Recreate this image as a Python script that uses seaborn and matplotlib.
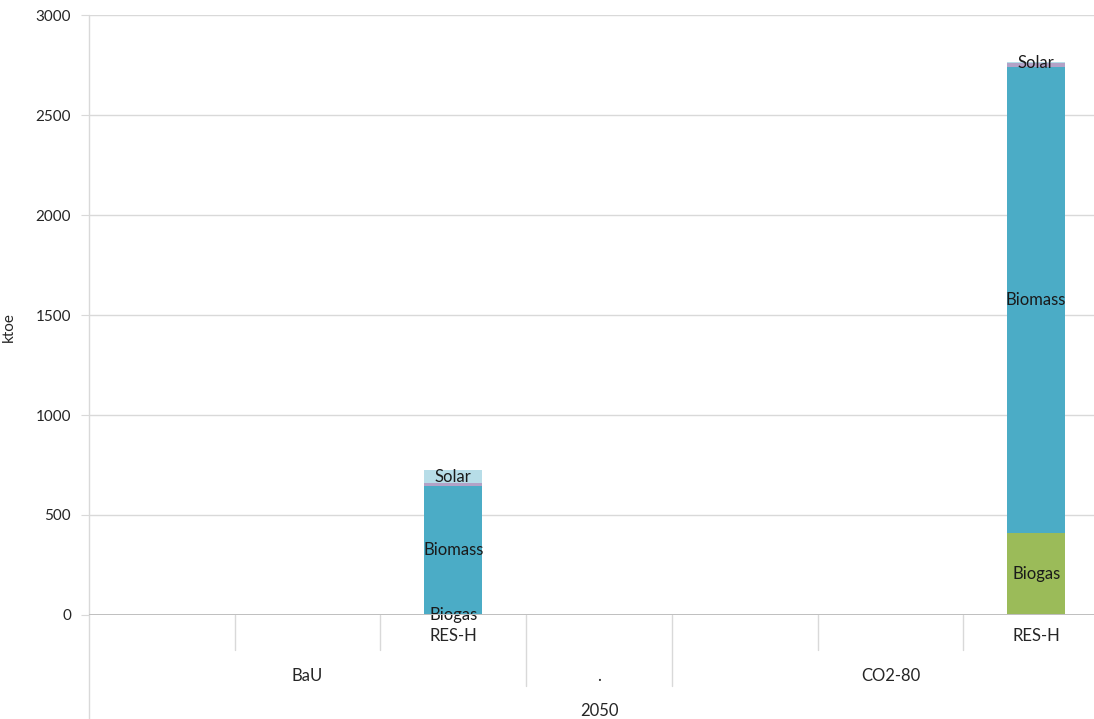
import pandas as pd
import matplotlib.pyplot as plt
import seaborn as sns

# datos (ktoe)
columns = ["BaU_1", "BaU_2", "BaU_RES-H", "dot", "CO2_1", "CO2_2", "CO2_RES-H"]
level1 = ["", "", "RES-H", "", "", "", "RES-H"]
level2 = ["BaU", ".", "CO2-80"]
level2_span = [3, 1, 3]
level3 = "2050"

biogas = [0, 0, 2, 0, 0, 0, 410]
biomass = [0, 0, 643, 0, 0, 0, 2330]
other = [0, 0, 15, 0, 0, 0, 18]
solar = [0, 0, 65, 0, 0, 0, 6]

series = ["Biogas", "Biomass", "Other", "Solar"]
labelled = ["Biogas", "Biomass", "Solar"]
colors = {"Biogas": "#9BBB59", "Biomass": "#4BACC6", "Other": "#B3A2C7", "Solar": "#B7DDE8"}

df = pd.DataFrame({"col": columns, "Biogas": biogas, "Biomass": biomass,
                   "Other": other, "Solar": solar})
cum = df[series].cumsum(axis=1)

sns.set_style("white")
plt.rcParams["font.family"] = ["Lato", "DejaVu Sans"]

W, H = 1094, 719
fig = plt.figure(figsize=(W / 100, H / 100), dpi=100)
ax_h = 600
ax = fig.add_axes([89 / W, 104 / H, 1020 / W, ax_h / H])

# barras apiladas (se dibuja el acumulado de arriba hacia abajo)
for s in reversed(series):
    sns.barplot(x=df["col"], y=cum[s], order=columns, color=colors[s], width=0.4,
                linewidth=0, saturation=1, errorbar=None, ax=ax)

# etiquetas dentro de las barras
for i in range(len(columns)):
    if cum.loc[i, "Solar"] <= 0:
        continue
    for s in labelled:
        y = cum.loc[i, s] - df.loc[i, s] / 2
        ax.text(i, y, s, ha="center", va="center", fontsize=12, color="#1a1a1a")

ax.set_xlim(-0.5, len(columns) - 0.5)
ax.set_ylim(0, 3000)
ax.set_yticks(range(0, 3001, 500))
ax.yaxis.grid(True, color="#D9D9D9", lw=1)
ax.set_axisbelow(True)
for sp in ax.spines.values():
    sp.set_visible(False)
ax.tick_params(axis="y", length=6, color="#D9D9D9", labelsize=11, pad=7,
               labelcolor="#262626", left=True)
ax.set_xticks([])
ax.set_xlabel("")
ax.set_ylabel("ktoe", fontsize=11, color="#262626")
ax.yaxis.set_label_coords(-(89 - 16) / 1020, 0.48)

# eje x y eje y
ax.axhline(0, color="#BFBFBF", lw=1.4, zorder=3)
tr = ax.get_xaxis_transform()
ax.plot([-0.5, -0.5], [-104 / ax_h, 1], color="#D9D9D9", lw=1, transform=tr, clip_on=False)

# ejes de categorías en varios niveles
for i, lab in enumerate(level1):
    ax.text(i, -21 / ax_h, lab, transform=tr, ha="center", va="center", fontsize=12, color="#262626")
bounds = [0]
for n in level2_span:
    bounds.append(bounds[-1] + n)
for b in range(1, len(columns)):
    depth = 71 if b in bounds else 35
    ax.plot([b - 0.5, b - 0.5], [0, -depth / ax_h], color="#D9D9D9", lw=1,
            transform=tr, clip_on=False)
for lab, a, b in zip(level2, bounds[:-1], bounds[1:]):
    ax.text((a + b - 1) / 2, -61 / ax_h, lab, transform=tr, ha="center", va="center",
            fontsize=12, color="#262626")
ax.text((len(columns) - 1) / 2, -96 / ax_h, level3, transform=tr, ha="center", va="center",
        fontsize=12, color="#262626")

fig.savefig("out.png", dpi=100)
